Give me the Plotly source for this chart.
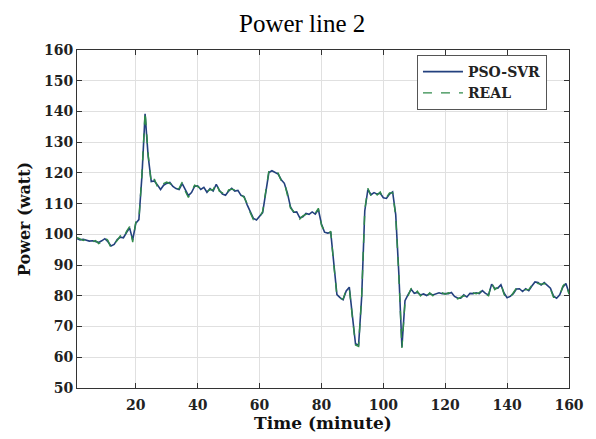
import plotly.graph_objects as go

time_min = list(range(1, 161))

real_power = [
    99, 98.5, 98, 98.5, 98, 97.5, 98, 97, 97.5, 99,
    98, 95.5, 97, 98, 99.5, 98.5, 101, 102.5, 97.5, 104,
    104.5, 120, 140, 126, 116.5, 118, 115.5, 115, 116.5, 117,
    116.5, 116, 114.5, 115, 117, 114, 112, 114, 116, 115.5,
    115, 115, 114, 114.5, 114.5, 116.8, 114, 113.5, 112.3, 114.5,
    114.7, 114.4, 114, 113, 112, 110, 107, 104.8, 105, 105.5,
    107.5, 114, 120.6, 120.4, 120.5, 120, 117.4, 117, 113, 108.5,
    107.5, 107, 105, 106, 106.5, 106.8, 107, 106.9, 108.5, 103,
    101, 100, 101, 90, 80, 79, 79, 82, 82.5, 73,
    64, 63.5, 80, 108, 115, 112.5, 114, 112.8, 113.8, 111.5,
    112, 113.5, 113.5, 106, 87, 63, 78, 80, 82.5, 80.5,
    81.5, 80, 81, 79.8, 81, 80, 81, 80.8, 81, 80.5,
    81, 80.8, 79.5, 79, 79.5, 80, 79.8, 80.5, 81, 80.7,
    81, 82, 80.5, 80, 84.3, 82, 82.8, 84, 80.5, 79,
    79.5, 81, 82.5, 82, 81.7, 82, 82, 83.5, 84.9, 84,
    83.8, 84, 83.8, 82.2, 79.5, 79.5, 80, 83.2, 84.3, 80.5,
]

pso_svr_power = [
    98.6, 98.2, 98.4, 98.1, 97.8, 97.9, 97.6, 97.4, 97.9, 98.6,
    97.6, 96.2, 96.7, 98.3, 99.1, 98.9, 100.6, 102.1, 98.2, 103.6,
    104.8, 119.2, 139.2, 125.4, 117.2, 117.4, 116.1, 114.6, 116.0, 116.6,
    116.9, 115.6, 114.9, 114.6, 116.5, 114.5, 112.6, 113.6, 115.6, 115.8,
    114.6, 115.3, 113.7, 114.9, 114.1, 116.3, 114.4, 113.1, 112.7, 114.1,
    115.0, 114.1, 114.3, 112.7, 112.3, 109.6, 107.4, 105.2, 104.7, 105.9,
    107.1, 113.6, 120.1, 120.7, 120.1, 119.6, 117.8, 116.6, 113.4, 108.9,
    107.2, 107.3, 105.4, 105.7, 106.8, 106.5, 107.3, 106.6, 108.1, 103.4,
    100.7, 100.4, 100.6, 90.4, 80.4, 79.4, 78.7, 81.6, 82.8, 73.5,
    64.4, 63.9, 79.6, 107.6, 114.6, 112.9, 113.6, 113.1, 113.4, 111.9,
    111.7, 113.1, 113.8, 106.4, 87.4, 63.4, 78.4, 80.4, 82.1, 80.8,
    81.1, 80.3, 80.6, 80.1, 80.7, 80.3, 80.7, 81.0, 80.7, 80.8,
    80.7, 81.1, 79.8, 79.3, 79.2, 80.3, 79.6, 80.8, 80.7, 81.0,
    80.7, 81.7, 80.8, 80.3, 83.8, 82.4, 82.5, 83.6, 80.9, 79.4,
    79.8, 80.7, 82.2, 82.3, 81.4, 82.3, 81.7, 83.2, 84.5, 84.3,
    83.5, 84.3, 83.5, 82.5, 79.9, 79.2, 80.3, 82.8, 84.0, 80.9,
]

x_tick_values = [20, 40, 60, 80, 100, 120, 140, 160]
y_tick_values = [50, 60, 70, 80, 90, 100, 110, 120, 130, 140, 150, 160]

tick_font = dict(family="DejaVu Serif", size=14, color="#222", weight="bold")

fig = go.Figure()
fig.add_trace(go.Scatter(
    x=time_min, y=pso_svr_power, mode="lines", name="PSO-SVR",
    line=dict(color="#23407e", width=1.6),
))
fig.add_trace(go.Scatter(
    x=time_min, y=real_power, mode="lines", name="REAL",
    line=dict(color="#2f8a4a", width=1.4, dash="dash"),
))

fig.update_layout(
    width=596, height=439,
    margin=dict(l=77, r=20, t=50, b=45),
    paper_bgcolor="white", plot_bgcolor="white",
    title=dict(
        text="Power line 2", x=0.507, xanchor="center", xref="container",
        y=1 - 23 / 439, yref="container", yanchor="middle",
        font=dict(family="Liberation Serif", size=25, color="black"),
    ),
    legend=dict(
        x=0.691, y=0.985, xanchor="left", yanchor="top",
        bordercolor="#555", borderwidth=1, bgcolor="white",
        font=dict(family="DejaVu Serif", size=14, color="#222", weight="bold"),
        tracegroupgap=0, itemwidth=40,
    ),
    showlegend=True,
)

fig.update_xaxes(
    range=[1, 160], tickvals=x_tick_values, ticks="inside", ticklen=5,
    tickcolor="#333", showline=True, linecolor="#333", linewidth=1, mirror="ticks",
    showgrid=True, gridcolor="#e0e0e0", gridwidth=1, zeroline=False,
    tickfont=tick_font, ticklabelstandoff=4,
    title=dict(text="Time (minute)", standoff=2,
               font=dict(family="DejaVu Serif", size=17, color="#111", weight="bold")),
)
fig.update_yaxes(
    range=[50, 160], tickvals=y_tick_values, ticks="inside", ticklen=5,
    tickcolor="#333", showline=True, linecolor="#333", linewidth=1, mirror="ticks",
    showgrid=True, gridcolor="#e0e0e0", gridwidth=1, zeroline=False,
    tickfont=tick_font,
    title=dict(text="Power (watt)", standoff=9,
               font=dict(family="DejaVu Serif", size=16, color="#111", weight="bold")),
)

fig.write_html("out.html")
